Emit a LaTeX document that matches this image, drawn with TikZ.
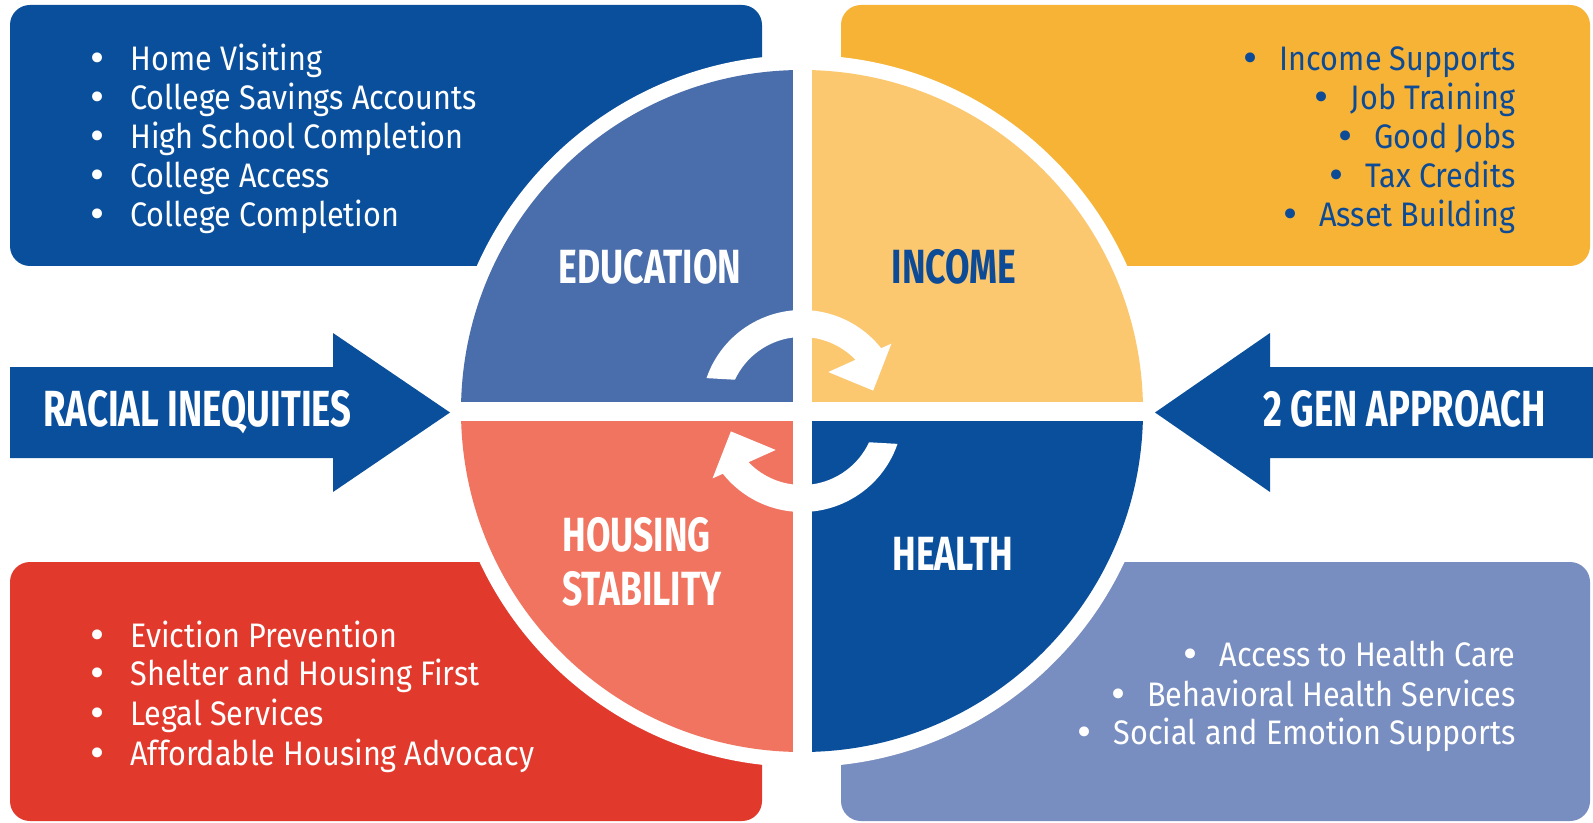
\documentclass[tikz,border=0pt]{standalone}
\usepackage{fontspec}
\setmainfont{Fira Sans}
\newfontfamily\listfont{Fira Sans}[FakeStretch=0.90]
\newfontfamily\headfont{Fira Sans}[FakeStretch=0.74]
\newfontfamily\bigfont{Fira Sans}[FakeStretch=0.72]
\newfontfamily\dotfont{DejaVu Sans}
\definecolor{navy}{RGB}{10,79,156}
\definecolor{edu}{RGB}{74,110,171}
\definecolor{gold}{RGB}{246,179,53}
\definecolor{inc}{RGB}{251,199,111}
\definecolor{inctext}{RGB}{13,75,151}
\definecolor{redbox}{RGB}{226,57,45}
\definecolor{hou}{RGB}{240,116,96}
\definecolor{hea}{RGB}{10,79,156}
\definecolor{lav}{RGB}{120,141,192}
\newcommand\litm[1]{\makebox[21.5pt][l]{{\dotfont •}}#1}
\newcommand\ritm[1]{\makebox[19.5pt][l]{{\dotfont •}}#1}
\begin{document}
\begin{tikzpicture}[x=0.5pt,y=-0.5pt,
  lst/.style={font=\listfont\fontsize{17}{20}\selectfont, inner sep=0pt, text height=12pt, text depth=3.5pt},
  head/.style={font=\headfont\bfseries\fontsize{24}{26}\selectfont, inner sep=0pt},
  big/.style={font=\bigfont\bfseries\fontsize{25.4}{28}\selectfont, inner sep=0pt, text=white},
  box/.style={rounded corners=10pt}]
\useasboundingbox (0,0) rectangle (1593,823);
\fill[white] (0,0) rectangle (1593,823);
% corner boxes
\fill[navy,box] (10,5) rectangle (762,266);
\fill[gold,box] (841,5) rectangle (1590,266);
\fill[redbox,box] (10,562) rectangle (762,821);
\fill[lav,box] (841,562) rectangle (1590,821);
% white ring cutting the boxes
\fill[white] (802,411) circle[radius=356];
% side arrows
\fill[navy] (10,367) -- (333,367) -- (333,333) -- (450,412.5) -- (333,492) -- (333,458) -- (10,458) -- cycle;
\fill[navy] (1593,367) -- (1270,367) -- (1270,333) -- (1155,412.5) -- (1270,492) -- (1270,458) -- (1593,458) -- cycle;
% quadrants
\begin{scope}[shift={(802,411)}, y=0.5pt]
  \fill[edu] (0,0) -- (180:341) arc[start angle=180, end angle=90, radius=341] -- cycle;
  \fill[inc] (0,0) -- (90:341) arc[start angle=90, end angle=0, radius=341] -- cycle;
  \fill[hea] (0,0) -- (0:341) arc[start angle=0, end angle=-90, radius=341] -- cycle;
  \fill[hou] (0,0) -- (270:341) arc[start angle=270, end angle=180, radius=341] -- cycle;
  \fill[white] (-9.5,-350) rectangle (9.5,350);
  \fill[white] (-350,-9.5) rectangle (350,9.5);
  % cycle arrows
  \foreach \r in {0,180}{
    \begin{scope}[rotate=\r]
      \fill[white] (161:101) arc[start angle=161, end angle=36, radius=101]
        -- (36:74) arc[start angle=36, end angle=155, radius=74] -- cycle;
      \fill[white] (56:47) -- (37:112) -- (16:74) -- cycle;
    \end{scope}
  }
\end{scope}
% headings
\node[head, text=white, anchor=base] (edu) at (650,283.5) {EDUCATION};
\node[head, text=inctext, anchor=base] (inc) at (954,283.5) {INCOME};
\node[head, text=white, anchor=base west] (hou1) at (562,551.7) {HOUSING};
\node[head, text=white, anchor=base west] (hou2) at (562,605.5) {STABILITY};
\node[head, text=white, anchor=base] (hea) at (953,570) {HEALTH};
\node[big, anchor=base west] (racial) at (43,426.7) {RACIAL INEQUITIES};
\node[big, anchor=base east] (gen) at (1546,426.7) {2 GEN APPROACH};
% education list
\node[lst, text=white, anchor=base west] (e1) at (87,70.1) {\litm{Home Visiting}};
\node[lst, text=white, anchor=base west] (e2) at (87,109.7) {\litm{College Savings Accounts}};
\node[lst, text=white, anchor=base west] (e3) at (87,148.3) {\litm{High School Completion}};
\node[lst, text=white, anchor=base west] (e4) at (87,188) {\litm{College Access}};
\node[lst, text=white, anchor=base west] (e5) at (87,226.6) {\litm{College Completion}};
% income list
\node[lst, text=inctext, anchor=base east] (i1) at (1516,70.1) {\ritm{Income Supports}};
\node[lst, text=inctext, anchor=base east] (i2) at (1516,109.7) {\ritm{Job Training}};
\node[lst, text=inctext, anchor=base east] (i3) at (1516,148.3) {\ritm{Good Jobs}};
\node[lst, text=inctext, anchor=base east] (i4) at (1516,188) {\ritm{Tax Credits}};
\node[lst, text=inctext, anchor=base east] (i5) at (1516,226.6) {\ritm{Asset Building}};
% housing list
\node[lst, text=white, anchor=base west] (h1) at (87,647.2) {\litm{Eviction Prevention}};
\node[lst, text=white, anchor=base west] (h2) at (87,685.8) {\litm{Shelter and Housing First}};
\node[lst, text=white, anchor=base west] (h3) at (87,725.4) {\litm{Legal Services}};
\node[lst, text=white, anchor=base west] (h4) at (87,765) {\litm{Affordable Housing Advocacy}};
% health list
\node[lst, text=white, anchor=base east] (a1) at (1516,666.5) {\ritm{Access to Health Care}};
\node[lst, text=white, anchor=base east] (a2) at (1516,706) {\ritm{Behavioral Health Services}};
\node[lst, text=white, anchor=base east] (a3) at (1516,744.7) {\ritm{Social and Emotion Supports}};
\end{tikzpicture}
\end{document}
